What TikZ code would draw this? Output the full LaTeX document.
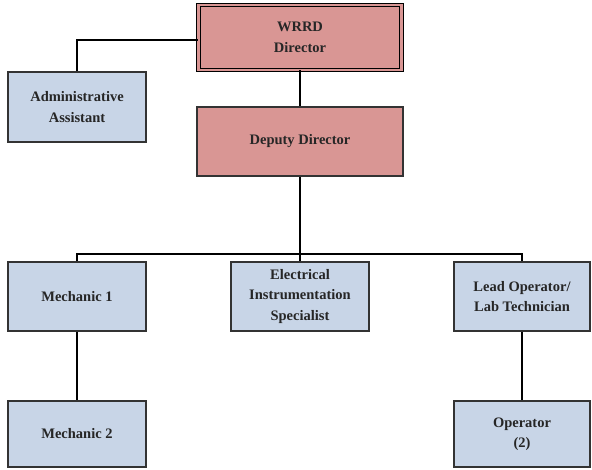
\documentclass[tikz,border=0pt]{standalone}
\usepackage{fontspec}
\setmainfont{Liberation Serif}
\begin{document}
\begin{tikzpicture}[x=1pt,y=-1pt,
  box/.style={draw=black!80, line width=1.4pt, align=center, inner sep=2pt,
    font=\fontsize{14.5}{20.5}\selectfont\bfseries, text=black!85},
  redbox/.style={box, fill=redfill},
  bluebox/.style={box, fill=bluefill},
  conn/.style={draw=black, line width=1.2pt}]
\definecolor{redfill}{HTML}{D99694}
\definecolor{bluefill}{HTML}{C8D5E7}
\useasboundingbox (0,0) rectangle (592,470);
\node[redbox, draw=black, line width=0.9pt, double=redfill, double distance=2.4pt,
  minimum width=203pt, minimum height=65pt] (wrrd) at (300,37.5) {WRRD\\Director};
\node[bluebox, minimum width=138pt, minimum height=70pt] (admin) at (77,107) {Administrative\\Assistant};
\node[redbox, minimum width=206pt, minimum height=69pt] (deputy) at (300,141.5) {Deputy Director};
\node[bluebox, minimum width=138pt, minimum height=69pt] (mech1) at (77,296.5) {Mechanic 1};
\node[bluebox, minimum width=138pt, minimum height=69pt] (elec) at (300,296.5) {Electrical\\Instrumentation\\Specialist};
\node[bluebox, minimum width=136pt, minimum height=69pt] (lead) at (522,296.5) {Lead Operator/\\Lab Technician};
\node[bluebox, minimum width=138pt, minimum height=66pt] (mech2) at (77,434) {Mechanic 2};
\node[bluebox, minimum width=136pt, minimum height=66pt] (op) at (522,434) {Operator\\(2)};
\coordinate (bar) at (0,254);
\draw[conn] (admin.north) |- ([yshift=-2.5pt]wrrd.west);
\draw[conn] (wrrd.south) -- (deputy.north);
\draw[conn] (deputy.south) -- (elec.north);
\draw[conn] (mech1.north) |- (bar -| elec.north) -| (lead.north);
\draw[conn] (mech1.south) -- (mech2.north);
\draw[conn] (lead.south) -- (op.north);
\end{tikzpicture}
\end{document}
